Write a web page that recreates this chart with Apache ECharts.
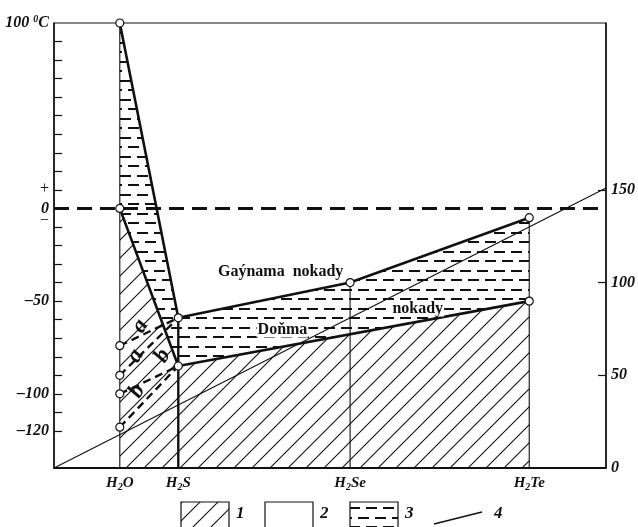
<!DOCTYPE html>
<html><head><meta charset="utf-8">
<script src="https://cdn.jsdelivr.net/npm/echarts@6/dist/echarts.min.js"></script>
<style>html,body{margin:0;padding:0;background:#fff}#c{width:638px;height:527px}</style>
</head><body><div id="c"></div>
<script>
// ---- data ----
const compounds = ['H2O', 'H2S', 'H2Se', 'H2Te'];
const molarMass = [18, 34, 81, 130];
const boilingT = [100, -59, -40, -5];
const meltMass = [18, 34, 130];
const meltingT = [0, -85, -50];
const h2oExtrapolated = [-74, -90, -100, -118];
const extrapTarget = ['boil', 'boil', 'melt', 'melt'];
const extrapLabels = ['a', 'a', 'b', 'b'];
const leftTickLabels = [-120, -100, -50, 0, 100];
const leftTicks = [-120, -110, -100, -90, -80, -70, -60, -50, -40, -30, -20, -10, 0, 10, 20, 30, 40, 50, 60, 70, 80, 90];
const rightTickLabels = [0, 50, 100, 150];
const rightTicks = [50, 100, 150];
const massLine = [[0, 0], [151, 151]];
const regionNotes = ['Gaýnama  nokady', 'Doňma', 'nokady'];
const legendNames = ['1', '2', '3', '4'];

// ---- layout / styling ----
const SERIF = '"Liberation Serif","Times New Roman",serif';
const yMin = -140, yMax = 100, xMax = 151;
const notePos = [[62, -34], [62.5, -65.3], [99.5, -54]];
const extrapLabelPos = [[23.6, -63.5], [22.3, -79.5], [29.7, -79.5], [22.7, -98.5]];

function hatchPattern() {
  const s = 18, c = document.createElement('canvas');
  c.width = s; c.height = s;
  const g = c.getContext('2d');
  g.strokeStyle = '#111'; g.lineWidth = 1.1;
  g.beginPath();
  g.moveTo(0, s); g.lineTo(s, 0);
  g.moveTo(-3, 3); g.lineTo(3, -3);
  g.moveTo(s - 3, s + 3); g.lineTo(s + 3, s - 3);
  g.stroke();
  return c;
}
function dashPattern() {
  const w = 34, h = 19, c = document.createElement('canvas');
  c.width = w; c.height = h;
  const g = c.getContext('2d');
  g.fillStyle = '#111';
  g.fillRect(1, 4, 11, 2); g.fillRect(18, 4, 11, 2);
  g.fillRect(9, 13, 11, 2); g.fillRect(26, 13, 8, 2); g.fillRect(0, 13, 3, 2);
  return c;
}
const hatchFill = { image: hatchPattern(), repeat: 'repeat' };
const dashFill = { image: dashPattern(), repeat: 'repeat' };

const boilPts = molarMass.map((m, i) => [m, boilingT[i]]);
const meltPts = meltMass.map((m, i) => [m, meltingT[i]]);
const solidPoly = meltPts.concat([[meltMass[meltMass.length - 1], yMin], [meltMass[0], yMin]]);
const liquidPoly = boilPts.concat(meltPts.slice().reverse());
const polys = [{ pts: liquidPoly, fill: dashFill }, { pts: solidPoly, fill: hatchFill }];

const circlePts = boilPts.concat(meltPts).concat(h2oExtrapolated.map(t => [molarMass[0], t]));

function subName(n) {
  return '{b|' + n.replace(/(\d)/, '}{s|$1}{b|') + '}';
}
const boldIt = { fontFamily: SERIF, fontWeight: 'bold', fontStyle: 'italic', fontSize: 15, color: '#111' };

const extrapSeries = h2oExtrapolated.map((t, i) => ({
  type: 'line', z: 4, symbol: 'none', silent: true,
  data: [[molarMass[0], t], [molarMass[1], extrapTarget[i] === 'boil' ? boilingT[1] : meltingT[1]]],
  lineStyle: { color: '#111', width: 2.4, type: [8, 5] }
}));

// text annotations placed in data coordinates
const textItems = regionNotes.map((t, i) => ({ pos: notePos[i], text: t, font: 'bold 16px ' + SERIF, rot: 0, bg: true }))
  .concat(extrapLabels.map((t, i) => ({ pos: extrapLabelPos[i], text: t, font: 'bold italic 23px ' + SERIF, rot: Math.PI / 3, bg: false })));

const option = {
  animation: false,
  backgroundColor: '#fff',
  grid: { left: 54, right: 32, top: 23, bottom: 59, show: true, borderColor: '#111', borderWidth: 1, backgroundColor: 'transparent' },
  xAxis: {
    type: 'value', min: 0, max: xMax,
    axisLine: { show: true, onZero: false, lineStyle: { color: '#111', width: 1.8 } },
    axisTick: { show: false },
    splitLine: { show: false },
    axisLabel: {
      customValues: molarMass, margin: 6,
      formatter: v => subName(compounds[molarMass.indexOf(v)]),
      rich: {
        b: Object.assign({}, boldIt, { lineHeight: 18, verticalAlign: 'middle' }),
        s: Object.assign({}, boldIt, { fontSize: 10, lineHeight: 6, verticalAlign: 'bottom' })
      }
    }
  },
  yAxis: [{
    type: 'value', min: yMin, max: yMax, interval: 10, position: 'left',
    axisLine: { show: true, onZero: false, lineStyle: { color: '#111', width: 1.6 } },
    axisTick: { show: true, inside: true, length: 8, customValues: leftTicks, lineStyle: { color: '#111', width: 1.2 } },
    splitLine: { show: false },
    axisLabel: {
      customValues: leftTickLabels, margin: 5,
      formatter: v => {
        if (v === 100) return '{b|100 }{sup|0}{b|C}';
        if (v === 0) return '{pm|+}\n{b0|0}\n{mn|−}\n{e| }';
        return '{b|–' + Math.abs(v) + '}';
      },
      rich: {
        b: Object.assign({}, boldIt, { fontSize: 16, lineHeight: 18, verticalAlign: 'middle' }),
        sup: Object.assign({}, boldIt, { fontSize: 10, lineHeight: 6, verticalAlign: 'top' }),
        pm: { fontFamily: SERIF, fontSize: 16, lineHeight: 24, color: '#111' },
        b0: Object.assign({}, boldIt, { fontSize: 16, lineHeight: 16 }),
        mn: { fontFamily: SERIF, fontSize: 16, lineHeight: 8, color: '#111' },
        e: { fontSize: 10, lineHeight: 16 }
      }
    }
  }, {
    type: 'value', min: 0, max: 240, position: 'right',
    axisLine: { show: true, onZero: false, lineStyle: { color: '#111', width: 1.6 } },
    axisTick: { show: true, inside: true, length: 8, customValues: rightTicks, lineStyle: { color: '#111', width: 1.2 } },
    splitLine: { show: false },
    axisLabel: Object.assign({ customValues: rightTickLabels, margin: 5 }, boldIt, { fontSize: 16 })
  }],
  series: [
    {
      type: 'custom', z: 1, silent: true,
      data: [[0, 0], [1, 0]],
      renderItem: (params, api) => {
        const p = polys[params.dataIndex];
        return { type: 'polygon', shape: { points: p.pts.map(q => api.coord(q)) }, style: { fill: p.fill, stroke: null } };
      }
    },
    {
      type: 'custom', z: 2, silent: true,
      data: molarMass.map((m, i) => [m, boilingT[i]]),
      renderItem: (params, api) => {
        const i = params.dataIndex;
        const a = api.coord([molarMass[i], yMin]), b = api.coord([molarMass[i], boilingT[i]]);
        return { type: 'line', shape: { x1: a[0], y1: a[1], x2: b[0], y2: b[1] }, style: { stroke: '#111', lineWidth: i === 1 ? 2.4 : 1.1 } };
      }
    },
    {
      type: 'line', z: 3, symbol: 'none', silent: true,
      data: [[0, 0], [xMax, 0]],
      lineStyle: { color: '#111', width: 3, type: [15, 8] }
    },
    {
      type: 'line', z: 3, yAxisIndex: 1, symbol: 'none', silent: true,
      data: massLine,
      lineStyle: { color: '#111', width: 1.1 }
    },
    {
      type: 'line', z: 4, symbol: 'none', silent: true,
      data: boilPts, lineStyle: { color: '#111', width: 2.6 }
    },
    {
      type: 'line', z: 4, symbol: 'none', silent: true,
      data: meltPts, lineStyle: { color: '#111', width: 2.6 }
    }
  ].concat(extrapSeries).concat([
    {
      type: 'scatter', z: 6, silent: true,
      data: circlePts, symbol: 'circle', symbolSize: 8,
      itemStyle: { color: '#fff', borderColor: '#111', borderWidth: 1.2, opacity: 1 }
    },
    {
      type: 'custom', z: 7, silent: true,
      data: textItems.map(t => t.pos),
      renderItem: (params, api) => {
        const t = textItems[params.dataIndex];
        const p = api.coord(t.pos);
        return {
          type: 'text', x: p[0], y: p[1], rotation: t.rot,
          style: {
            text: t.text, font: t.font, fill: '#111', align: 'center', verticalAlign: 'middle',
            backgroundColor: t.bg ? '#fff' : null, padding: t.bg ? [0, 1] : 0
          }
        };
      }
    }
  ]),
  graphic: [
    { type: 'rect', shape: { x: 181, y: 502, width: 48, height: 32 }, style: { fill: hatchFill, stroke: '#111', lineWidth: 1.2 } },
    { type: 'rect', shape: { x: 265, y: 502, width: 48, height: 32 }, style: { fill: '#fff', stroke: '#111', lineWidth: 1.2 } },
    { type: 'rect', shape: { x: 350, y: 502, width: 48, height: 32 }, style: { fill: dashFill, stroke: '#111', lineWidth: 1.2 } },
    { type: 'line', shape: { x1: 434, y1: 524, x2: 482, y2: 512 }, style: { stroke: '#111', lineWidth: 1.3 } },
    { type: 'text', x: 236, y: 514, style: { text: legendNames[0], font: 'bold italic 17px ' + SERIF, fill: '#111', verticalAlign: 'middle' } },
    { type: 'text', x: 320, y: 514, style: { text: legendNames[1], font: 'bold italic 17px ' + SERIF, fill: '#111', verticalAlign: 'middle' } },
    { type: 'text', x: 405, y: 514, style: { text: legendNames[2], font: 'bold italic 17px ' + SERIF, fill: '#111', verticalAlign: 'middle' } },
    { type: 'text', x: 494, y: 514, style: { text: legendNames[3], font: 'bold italic 17px ' + SERIF, fill: '#111', verticalAlign: 'middle' } }
  ]
};
const chart = echarts.init(document.getElementById('c'));
chart.setOption(option);
</script>
</body></html>
